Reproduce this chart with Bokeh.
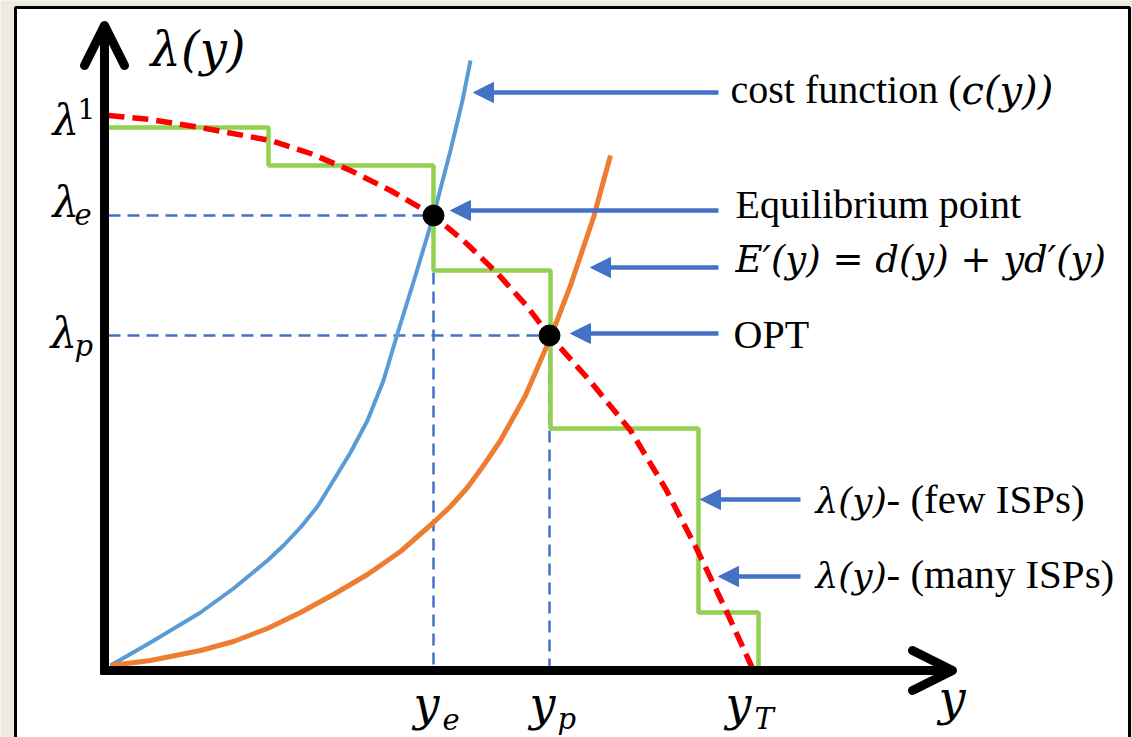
from bokeh.plotting import figure
from bokeh.models import Range1d, Arrow, NormalHead, OpenHead, ColumnDataSource
from bokeh.core.properties import value
from bokeh.embed import file_html
from bokeh.resources import INLINE

# ---------------- data (schematic units; origin at the axes corner) ----------------
# cost function c(y)
cost_x = [2, 42, 92, 125, 159, 175, 192, 209, 225, 242, 259, 275, 289, 307, 325, 342, 354, 362]
cost_y = [1, 24, 54, 78, 106, 121, 139, 160, 186, 214, 246, 286, 333, 391, 451, 516, 566, 606]
# E'(y) = d(y) + y d'(y)
emarg_x = [2, 42, 92, 125, 159, 192, 225, 259, 292, 325, 342, 359, 375, 392, 417, 442, 462, 485, 502]
emarg_y = [1, 6, 16, 25, 38, 54, 72, 92, 115, 144, 160, 179, 201, 226, 271, 329, 381, 449, 511]
# lambda(y) - many ISPs (smooth, dashed red)
many_x = [0, 42, 92, 162, 202, 242, 282, 325, 357, 389, 417, 441, 482, 522, 557, 589, 619, 644]
many_y = [551, 547, 539, 526, 513, 496, 476, 451, 424, 393, 362, 331, 285, 236, 178, 116, 53, -2]
# lambda(y) - few ISPs (step function)
few_x = [0, 160, 325, 442, 590, 650]
few_y = [539, 501, 396, 238, 54, -4]
# equilibrium point and OPT
pts_x = [325, 441]
pts_y = [451, 331]

# annotation arrows (start -> tip)
arr_x0 = [610, 610, 610, 610, 692, 692]
arr_x1 = [365, 342, 482, 462, 592, 610]
arr_y = [574, 456, 399, 333, 167, 90]

# annotation texts
txt_plain = ["cost function (", "Equilibrium point", "OPT"]
txt_plain_x = [622, 627, 625]
txt_plain_y = [577, 462, 332]
txt_isp = ["- (few ISPs)", "- (many ISPs)"]
txt_isp_x = [778, 778]
txt_isp_y = [168, 93]
txt_cy = ["c(y))"]
txt_cy_x = [853]
txt_cy_y = [577]
txt_lam = ["\u03bb(y)", "\u03bb(y)"]
txt_lam_x = [707, 707]
txt_lam_y = [166, 91]
txt_eq = ["E\u2032(y) = d(y) + yd\u2032(y)"]
txt_eq_x = [627]
txt_eq_y = [407]

# axis labels
ylab_base = ["\u03bb", "\u03bb", "\u03bb"]
ylab_x = [-56, -56, -58]
ylab_y = [546, 464, 333]
ylab_sub = ["e", "p"]
ylab_sub_x = [-34, -34]
ylab_sub_y = [453, 321]
ylab_sup = ["1"]
ylab_sup_x = [-31]
ylab_sup_y = [558]
xlab_base = ["y", "y", "y"]
xlab_x = [305, 421, 617]
xlab_sub = ["e", "p", "T"]
xlab_sub_x = [334, 449, 646]
xlab_y = -37
xlab_sub_y = -52

BEIGE = "#EDEAE0"
BLUE_A = "#4472C4"
SERIF = value("Liberation Serif")
MATH = value("DejaVu Serif")

p = figure(width=1132, height=737, x_range=Range1d(-108, 1024), y_range=Range1d(-71, 666),
           output_backend="svg", toolbar_location=None, min_border=0,
           x_axis_location=None, y_axis_location=None)
p.grid.visible = False
p.outline_line_color = None
p.background_fill_color = BEIGE
p.border_fill_color = BEIGE

# white panel with black border
frame_l, frame_r, frame_t, frame_b = [-93], [1021], [659], [-90]
p.quad(left=frame_l, right=frame_r, top=frame_t, bottom=frame_b,
       fill_color="white", line_color="black", line_width=3)

# dashed guides
p.segment(x0=[0, 0], y0=pts_y, x1=pts_x, y1=pts_y, line_color=BLUE_A, line_width=2.5, line_dash="12 7")
p.segment(x0=pts_x, y0=pts_y, x1=pts_x, y1=[-4, -4], line_color=BLUE_A, line_width=2.5, line_dash="12 7")

# curves
p.line(cost_x, cost_y, line_color="#5B9BD5", line_width=4, line_join="round")
p.line(emarg_x, emarg_y, line_color="#ED7D31", line_width=5, line_join="round")
p.step(few_x, few_y, mode="after", line_color="#92D050", line_width=4.5)
p.line(many_x, many_y, line_color="#FF0000", line_width=5.5, line_dash="16 8")
p.scatter(pts_x, pts_y, size=21, fill_color="black", line_color="black")

# axes with open arrow heads
p.add_layout(Arrow(end=OpenHead(size=40, line_width=9, line_color="black", line_cap="round", line_join="round"),
                   x_start=-4, y_start=-8, x_end=-4, y_end=641, line_color="black", line_width=9))
p.add_layout(Arrow(end=OpenHead(size=40, line_width=9, line_color="black", line_cap="round", line_join="round"),
                   x_start=-8, y_start=-4, x_end=844, y_end=-4, line_color="black", line_width=9))

# annotation arrows
asrc = ColumnDataSource(dict(x0=arr_x0, x1=arr_x1, y=arr_y))
p.add_layout(Arrow(end=NormalHead(size=20, fill_color=BLUE_A, line_color=BLUE_A),
                   x_start="x0", y_start="y", x_end="x1", y_end="y", source=asrc,
                   line_color=BLUE_A, line_width=4.5))

# texts
common = dict(text_baseline="alphabetic", text_color="black")
p.text(txt_plain_x, txt_plain_y, text=txt_plain, text_font=SERIF, text_font_size="40px", **common)
p.text(txt_isp_x, txt_isp_y, text=txt_isp, text_font=SERIF, text_font_size="41px", **common)
p.text(txt_cy_x, txt_cy_y, text=txt_cy, text_font=MATH, text_font_size="40px",
       text_font_style="italic", **common)
p.text(txt_lam_x, txt_lam_y, text=txt_lam, text_font=MATH, text_font_size="36px",
       text_font_style="italic", **common)
p.text(txt_eq_x, txt_eq_y, text=txt_eq, text_font=MATH, text_font_size="37px",
       text_font_style="italic", **common)
p.text([42], [618], text=["\u03bb(y)"], text_font=MATH, text_font_size="48px",
       text_font_style="italic", **common)
p.text([830], [-31], text=["y"], text_font=MATH, text_font_size="48px",
       text_font_style="italic", **common)
p.text(ylab_x, ylab_y, text=ylab_base, text_font=MATH, text_font_size="42px",
       text_font_style="italic", **common)
p.text(ylab_sub_x, ylab_sub_y, text=ylab_sub, text_font=MATH, text_font_size="29px",
       text_font_style="italic", **common)
p.text(ylab_sup_x, ylab_sup_y, text=ylab_sup, text_font=MATH, text_font_size="28px", **common)
p.text(xlab_x, [xlab_y] * 3, text=xlab_base, text_font=MATH, text_font_size="46px",
       text_font_style="italic", **common)
p.text(xlab_sub_x, [xlab_sub_y] * 3, text=xlab_sub, text_font=MATH, text_font_size="29px",
       text_font_style="italic", **common)

open("out.html", "w").write(file_html(p, INLINE))
